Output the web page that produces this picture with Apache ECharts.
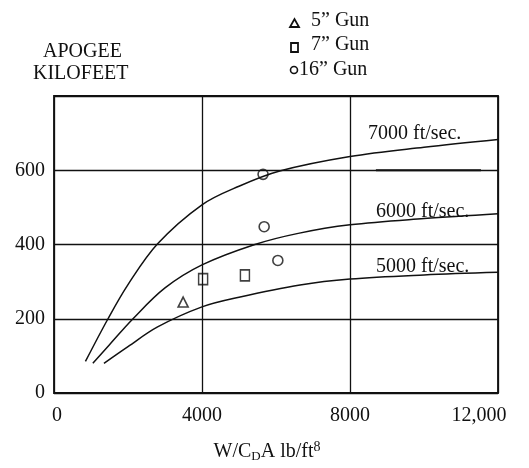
<!DOCTYPE html>
<html><head><meta charset="utf-8">
<script src="https://cdn.jsdelivr.net/npm/echarts@6/dist/echarts.min.js"></script>
<style>html,body{margin:0;padding:0;background:#fff}#c{width:529px;height:468px}</style>
</head><body><div id="c"></div>
<script>
const xTicks = [0, 4000, 8000, 12000];
const xTickLabels = ['0', '4000', '8000', '12,000'];
const yTicks = [0, 200, 400, 600];

const v7000x = [850, 1460, 2000, 2800, 4000, 5000, 6100, 8000, 10000, 12000];
const v7000y = [85, 200, 292, 402, 507, 557, 598, 637, 662, 683];
const v6000x = [1050, 1500, 2135, 3000, 4000, 5430, 6600, 8000, 10000, 12000];
const v6000y = [80, 130, 200, 283, 345, 400, 430, 453, 470, 483];
const v5000x = [1350, 2000, 2800, 4000, 5000, 6650, 8000, 10000, 12000];
const v5000y = [80, 125, 178, 232, 258, 291, 307, 318, 325];

const gun5x = [3490];  const gun5y = [245];
const gun7x = [4030, 5160]; const gun7y = [307, 317];
const gun16x = [5650, 5680, 6050]; const gun16y = [589, 448, 357];

const artifactX = [8700, 11540]; const artifactY = [600, 600];

const zip = (a, b) => a.map((v, i) => [v, b[i]]);
const font = '"Liberation Serif", "Times New Roman", serif';
const F = '20px ' + font;

const chart = echarts.init(document.getElementById('c'));
const lineStyle = {color: '#111', width: 1.5};
function curve(name, xs, ys) {
  return {name, type: 'line', data: zip(xs, ys), smooth: 0.35, showSymbol: false,
    lineStyle, silent: true, z: 3};
}
function txt(x, y, s) {
  return {type: 'text', x, y, z: 10, style: {text: s, font: F, fill: '#111', textVerticalAlign: 'middle', verticalAlign: 'middle'}};
}
const pt = {color: 'transparent', borderColor: '#111', borderWidth: 1.6};
chart.setOption({
  animation: false,
  backgroundColor: '#fff',
  textStyle: {fontFamily: font},
  grid: {left: 54, right: 31, top: 96, bottom: 72, show: true, borderColor: '#111', borderWidth: 1.8},
  xAxis: {
    type: 'value', min: 0, max: 12000, interval: 4000,
    axisLine: {show: false}, axisTick: {show: false},
    splitLine: {show: true, lineStyle: {color: '#111', width: 1.3}},
    axisLabel: {margin: 13, color: '#111', fontSize: 20, fontFamily: font,
      formatter: v => {
        const i = xTicks.indexOf(v);
        if (i < 0) return '';
        if (i === 0) return '{l|' + xTickLabels[i] + '}';
        if (i === xTicks.length - 1) return '{r|' + xTickLabels[i] + '}';
        return xTickLabels[i];
      },
      rich: {
        l: {fontSize: 20, fontFamily: font, color: '#111', padding: [0, 0, 0, 6]},
        r: {fontSize: 20, fontFamily: font, color: '#111', padding: [0, 38, 0, 0]}
      }
    },
    name: '{a|W/C}{s|D}{a|A lb/ft}{p|8}', nameLocation: 'middle', nameGap: 47,
    nameTextStyle: {padding: [0, 18, 0, 0], rich: {
      a: {fontSize: 20, fontFamily: font, color: '#111'},
      s: {fontSize: 13, fontFamily: font, color: '#111', verticalAlign: 'bottom', padding: [9, 0, 0, 0]},
      p: {fontSize: 14, fontFamily: font, color: '#111', verticalAlign: 'top', padding: [0, 0, 9, 0]}
    }}
  },
  yAxis: {
    type: 'value', min: 0, max: 800, interval: 200,
    axisLine: {show: false}, axisTick: {show: false},
    splitLine: {show: true, lineStyle: {color: '#111', width: 1.3}},
    axisLabel: {margin: 9, color: '#111', fontSize: 20, fontFamily: font,
      formatter: v => yTicks.includes(v) ? String(v) : ''}
  },
  graphic: [
    txt(43, 51.5, 'APOGEE'),
    txt(33, 74, 'KILOFEET'),
    txt(311, 21, '5” Gun'),
    txt(311, 45, '7” Gun'),
    txt(299, 69.5, '16” Gun'),
    {type: 'polygon', shape: {points: [[290, 27], [299, 27], [294.5, 19]]}, style: {fill: 'none', stroke: '#111', lineWidth: 1.8}},
    {type: 'rect', shape: {x: 291, y: 43, width: 7, height: 9}, style: {fill: 'none', stroke: '#111', lineWidth: 1.8}},
    {type: 'circle', shape: {cx: 294, cy: 70, r: 3.5}, style: {fill: 'none', stroke: '#111', lineWidth: 1.6}},
    txt(368, 133.5, '7000 ft/sec.'),
    txt(376, 211.5, '6000 ft/sec.'),
    txt(376, 266.5, '5000 ft/sec.')
  ],
  series: [
    curve('7000 ft/sec.', v7000x, v7000y),
    curve('6000 ft/sec.', v6000x, v6000y),
    curve('5000 ft/sec.', v5000x, v5000y),
    {type: 'line', data: zip(artifactX, artifactY), showSymbol: false, lineStyle: {color: '#111', width: 2.2}, silent: true},
    {name: '5" Gun', type: 'scatter', data: zip(gun5x, gun5y), symbol: 'triangle', symbolSize: [10, 10], itemStyle: pt, z: 5},
    {name: '7" Gun', type: 'scatter', data: zip(gun7x, gun7y), symbol: 'rect', symbolSize: [9, 11], itemStyle: pt, z: 5},
    {name: '16" Gun', type: 'scatter', data: zip(gun16x, gun16y), symbol: 'circle', symbolSize: 10, itemStyle: pt, z: 5}
  ]
});
</script></body></html>
